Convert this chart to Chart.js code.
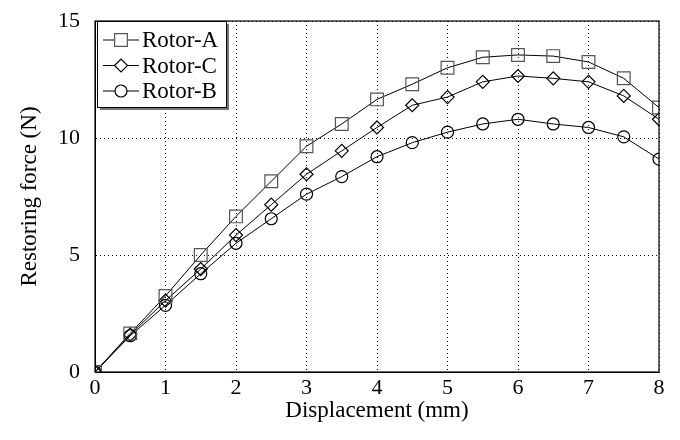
<!DOCTYPE html>
<html>
<head>
<meta charset="utf-8">
<script src="https://cdn.jsdelivr.net/npm/chart.js@4"></script>
<style>
  html, body { margin: 0; padding: 0; background: #fff; }
  #wrap { width: 680px; height: 440px; }
</style>
</head>
<body>
<div id="wrap"><canvas id="force-chart" width="680" height="440"></canvas></div>
<script>
// displacement (mm)
const displacement = [0, 0.5, 1, 1.5, 2, 2.5, 3, 3.5, 4, 4.5, 5, 5.5, 6, 6.5, 7, 7.5, 8];
const rotorA = [0, 1.65, 3.25, 5.0, 6.65, 8.15, 9.65, 10.6, 11.65, 12.3, 13.0, 13.45, 13.55, 13.5, 13.25, 12.55, 11.3];
const rotorC = [0, 1.6, 3.05, 4.4, 5.85, 7.15, 8.45, 9.45, 10.45, 11.4, 11.75, 12.4, 12.65, 12.55, 12.4, 11.8, 10.8];
const rotorB = [0, 1.55, 2.85, 4.2, 5.5, 6.55, 7.6, 8.35, 9.2, 9.8, 10.25, 10.6, 10.8, 10.6, 10.45, 10.05, 9.1];
const xTicks = [0, 1, 2, 3, 4, 5, 6, 7, 8];
const yTicks = [0, 5, 10, 15];

const serif = "'Liberation Serif', 'DejaVu Serif', serif";

function toPoints(ys) {
  const pts = [];
  for (let i = 0; i < displacement.length; i++) {
    pts.push({ x: displacement[i], y: ys[i] });
  }
  return pts;
}

function series(label, ys, style, radius, edge) {
  return {
    label: label,
    data: toPoints(ys),
    borderColor: '#000',
    borderWidth: 1,
    pointStyle: style,
    pointRadius: radius,
    pointBackgroundColor: 'rgba(255,255,255,0)',
    pointBorderColor: edge,
    pointBorderWidth: 1.2,
    fill: false,
    tension: 0
  };
}

// frame round the plot + boxed legend with shadow
const framePlugin = {
  id: 'frame',
  afterDraw(chart) {
    const ctx = chart.ctx;
    const a = chart.chartArea;
    ctx.save();
    ctx.strokeStyle = '#000';
    ctx.lineWidth = 1.2;
    ctx.strokeRect(a.left, a.top, a.right - a.left, a.bottom - a.top);

    // legend
    const bx = a.left + 2, by = a.top + 0, bw = 129, bh = 86;
    ctx.fillStyle = '#777';
    ctx.fillRect(bx + 3, by + 3, bw, bh);
    ctx.fillStyle = '#fff';
    ctx.fillRect(bx, by, bw, bh);
    ctx.strokeStyle = '#000';
    ctx.lineWidth = 1;
    ctx.strokeRect(bx + 0.5, by + 0.5, bw, bh);

    ctx.font = '23px ' + serif;
    ctx.textBaseline = 'middle';
    ctx.textAlign = 'left';
    chart.data.datasets.forEach((ds, i) => {
      const yy = by + 19 + i * 25.5;
      ctx.strokeStyle = '#000';
      ctx.lineWidth = 1;
      ctx.beginPath();
      ctx.moveTo(bx + 6, yy);
      ctx.lineTo(bx + 42, yy);
      ctx.stroke();
      ctx.fillStyle = '#fff';
      ctx.strokeStyle = ds.pointBorderColor;
      ctx.lineWidth = 1.2;
      Chart.helpers.drawPoint(ctx, {
        pointStyle: ds.pointStyle,
        radius: ds.pointRadius,
        rotation: 0,
        borderWidth: 1.2
      }, bx + 24, yy);
      ctx.fillStyle = '#000';
      ctx.fillText(ds.label, bx + 45, yy + 1);
    });
    ctx.restore();
  }
};

new Chart(document.getElementById('force-chart'), {
  type: 'line',
  data: {
    datasets: [
      series('Rotor-A', rotorA, 'rect', 9, '#555'),
      series('Rotor-C', rotorC, 'rectRot', 6.5, '#000'),
      series('Rotor-B', rotorB, 'circle', 6, '#000')
    ]
  },
  options: {
    responsive: false,
    animation: false,
    layout: { padding: { top: 21, right: 21, left: 0, bottom: 0 } },
    plugins: {
      legend: { display: false },
      tooltip: { enabled: false }
    },
    scales: {
      x: {
        type: 'linear',
        min: 0,
        max: 8,
        afterFit(scale) { scale.height = 68; },
        afterBuildTicks(scale) { scale.ticks = xTicks.map(v => ({ value: v })); },
        ticks: {
          color: '#000',
          padding: 3,
          font: { family: serif, size: 22 }
        },
        grid: {
          color: '#000',
          lineWidth: 1,
          tickLength: 0,
          drawTicks: false
        },
        border: { display: true, color: '#000', dash: [1, 3], width: 1 },
        title: {
          display: true,
          text: 'Displacement (mm)',
          color: '#000',
          font: { family: serif, size: 23 },
          padding: { top: 4, bottom: 15 }
        }
      },
      y: {
        type: 'linear',
        min: 0,
        max: 15,
        afterFit(scale) {
          scale.width = 95;
          scale.paddingTop = 0;
          scale.paddingBottom = 0;
        },
        afterBuildTicks(scale) { scale.ticks = yTicks.map(v => ({ value: v })); },
        ticks: {
          color: '#000',
          padding: 15,
          font: { family: serif, size: 22 }
        },
        grid: {
          color: '#000',
          lineWidth: 1,
          tickLength: 0,
          drawTicks: false
        },
        border: { display: true, color: '#000', dash: [1, 3], width: 1 },
        title: {
          display: true,
          text: 'Restoring force (N)',
          color: '#000',
          font: { family: serif, size: 23 },
          padding: { top: 16, bottom: 0 }
        }
      }
    }
  },
  plugins: [framePlugin]
});
</script>
</body>
</html>
